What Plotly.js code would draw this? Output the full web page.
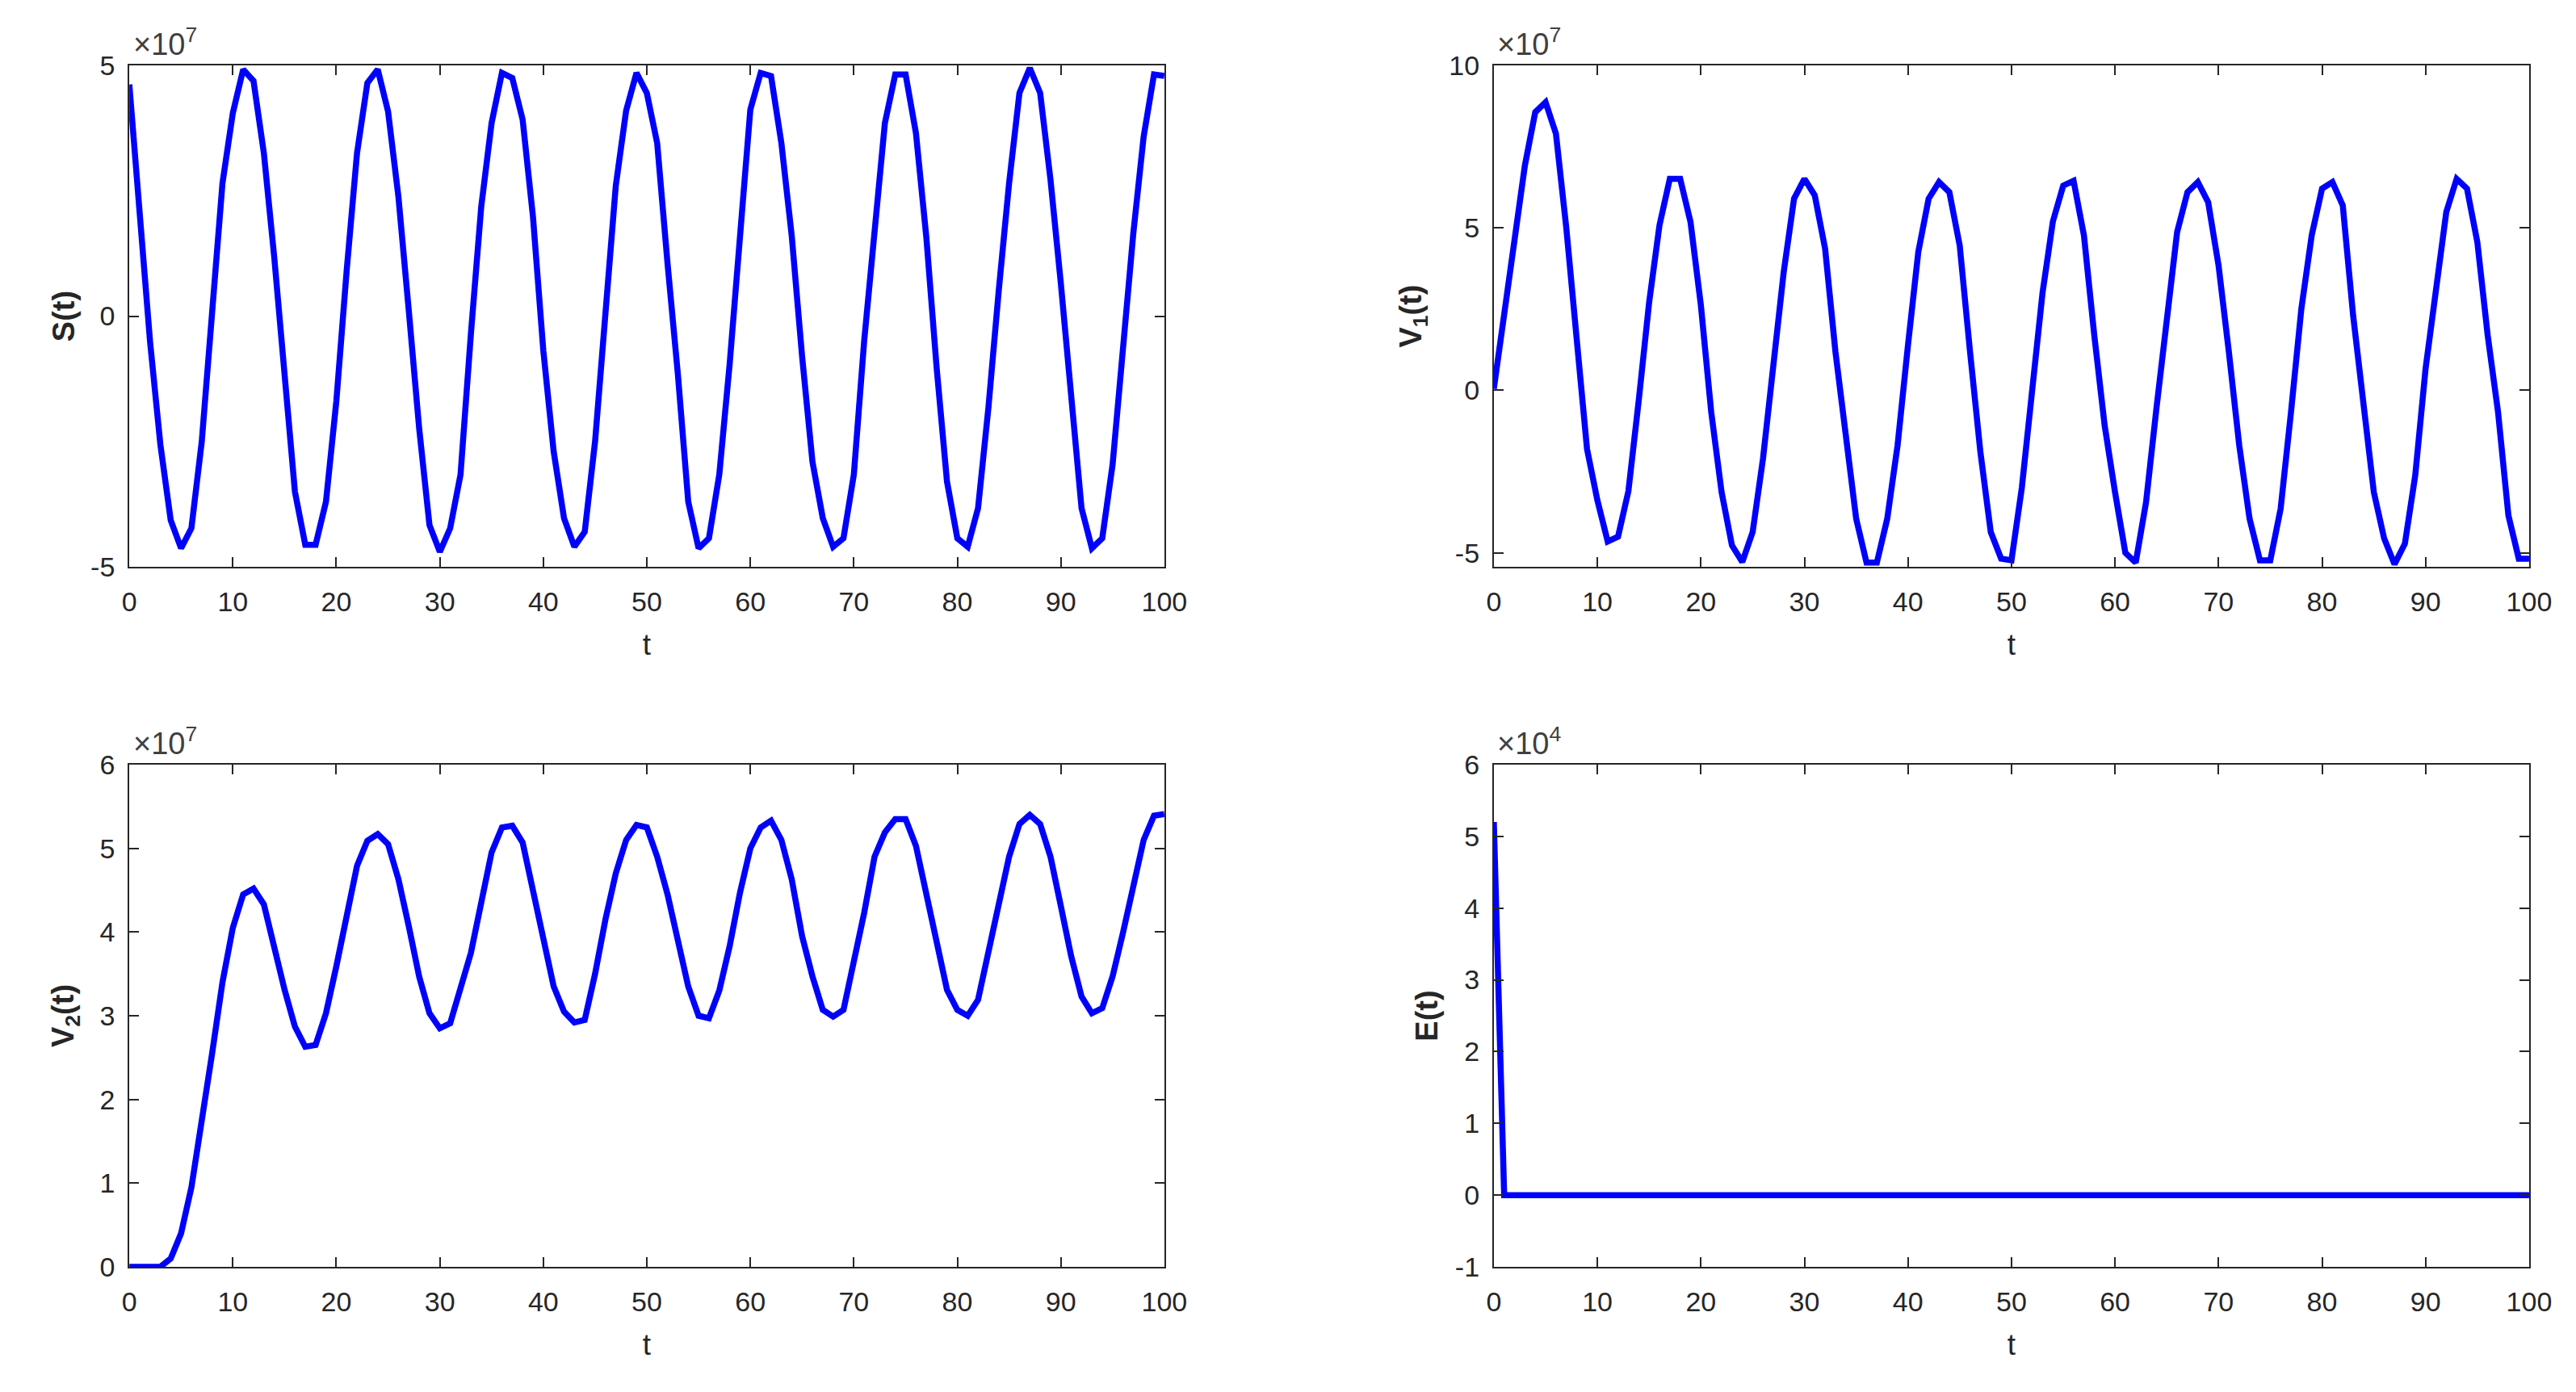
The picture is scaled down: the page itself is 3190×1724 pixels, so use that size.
<!DOCTYPE html>
<html>
<head>
<meta charset="utf-8">
<script src="https://cdn.plot.ly/plotly-3.0.1.min.js"></script>
<style>
  html, body { margin: 0; padding: 0; background: #ffffff; }
  #plot { width: 3190px; height: 1724px; }
</style>
</head>
<body>
<div id="plot"></div>
<script>
// sample times, one every unit from 0 to 100
var t = Array.from({length: 101}, function (_, i) { return i; });

// S(t), in units of 1e7
var S = [4.62, 1.97, -0.5, -2.56, -4.07, -4.63, -4.23, -2.5, 0.1, 2.65,
  4.05, 4.92, 4.69, 3.25, 1.18, -1.16, -3.5, -4.56, -4.56, -3.7,
  -1.7, 0.91, 3.25, 4.65, 4.92, 4.08, 2.38, 0.11, -2.23, -4.17,
  -4.7, -4.23, -3.16, -0.36, 2.18, 3.85, 4.85, 4.75, 3.92, 1.98,
  -0.69, -2.7, -4.03, -4.6, -4.3, -2.5, 0.1, 2.6, 4.1, 4.85,
  4.45, 3.45, 1.05, -1.16, -3.7, -4.63, -4.43, -3.16, -0.96, 1.58,
  4.12, 4.85, 4.79, 3.45, 1.6, -0.8, -2.9, -4.03, -4.6, -4.43,
  -3.16, -0.49, 1.58, 3.85, 4.82, 4.82, 3.65, 1.58, -1.03, -3.3,
  -4.43, -4.6, -3.83, -1.83, 0.51, 2.65, 4.45, 4.95, 4.45, 2.72,
  0.65, -1.56, -3.83, -4.63, -4.43, -2.96, -0.69, 1.65, 3.58, 4.82,
  4.79];

// V1(t), in units of 1e7
var V1 = [0.05, 2.41, 4.77, 6.92, 8.56, 8.87, 7.9, 5.0, 1.6, -1.8,
  -3.38, -4.65, -4.5, -3.1, -0.3, 2.7, 5.08, 6.51, 6.51, 5.18,
  2.62, -0.67, -3.13, -4.77, -5.28, -4.36, -2.1, 0.77, 3.64, 5.9,
  6.51, 6.0, 4.36, 1.18, -1.28, -3.95, -5.3, -5.3, -3.95, -1.69,
  1.38, 4.26, 5.9, 6.41, 6.1, 4.46, 1.18, -1.9, -4.36, -5.18,
  -5.23, -3.0, 0.0, 3.0, 5.2, 6.3, 6.45, 4.77, 1.69, -1.08,
  -3.13, -5.0, -5.3, -3.44, -0.56, 2.2, 4.87, 6.1, 6.41, 5.79,
  3.85, 1.18, -1.69, -3.95, -5.23, -5.23, -3.64, -0.67, 2.51, 4.77,
  6.21, 6.41, 5.69, 2.31, -0.56, -3.13, -4.56, -5.35, -4.72, -2.62,
  0.67, 3.03, 5.49, 6.51, 6.21, 4.56, 1.69, -0.67, -3.85, -5.18,
  -5.18];

// V2(t), in units of 1e7
var V2 = [0, 0, 0, 0, 0.1, 0.4, 0.95, 1.7, 2.55, 3.4,
  4.05, 4.45, 4.52, 4.33, 3.79, 3.31, 2.87, 2.63, 2.65, 3.03,
  3.59, 4.23, 4.79, 5.09, 5.17, 5.05, 4.63, 4.07, 3.47, 3.03,
  2.85, 2.91, 3.31, 3.75, 4.35, 4.95, 5.25, 5.27, 5.07, 4.5,
  3.99, 3.35, 3.05, 2.92, 2.95, 3.5, 4.15, 4.7, 5.1, 5.28,
  5.25, 4.9, 4.45, 3.9, 3.35, 3.0, 2.97, 3.3, 3.83, 4.47,
  5.0, 5.25, 5.33, 5.1, 4.63, 3.95, 3.47, 3.07, 2.99, 3.07,
  3.63, 4.23, 4.9, 5.19, 5.35, 5.35, 5.03, 4.47, 3.83, 3.31,
  3.07, 3.0, 3.19, 3.75, 4.35, 4.9, 5.29, 5.4, 5.29, 4.9,
  4.31, 3.71, 3.23, 3.03, 3.09, 3.47, 3.99, 4.55, 5.1, 5.39,
  5.41];

// E(t), in units of 1e4
var E = [5.2, 0, 0, 0, 0, 0, 0, 0, 0, 0,
  0, 0, 0, 0, 0, 0, 0, 0, 0, 0,
  0, 0, 0, 0, 0, 0, 0, 0, 0, 0,
  0, 0, 0, 0, 0, 0, 0, 0, 0, 0,
  0, 0, 0, 0, 0, 0, 0, 0, 0, 0,
  0, 0, 0, 0, 0, 0, 0, 0, 0, 0,
  0, 0, 0, 0, 0, 0, 0, 0, 0, 0,
  0, 0, 0, 0, 0, 0, 0, 0, 0, 0,
  0, 0, 0, 0, 0, 0, 0, 0, 0, 0,
  0, 0, 0, 0, 0, 0, 0, 0, 0, 0,
  0];

// tick positions
var xTicks = [0, 10, 20, 30, 40, 50, 60, 70, 80, 90, 100];
var sTicks = [-5, 0, 5];
var v1Ticks = [-5, 0, 5, 10];
var v2Ticks = [0, 1, 2, 3, 4, 5, 6];
var eTicks = [-1, 0, 1, 2, 3, 4, 5, 6];

var FONT = 'Liberation Sans, Arial, Helvetica, sans-serif';
var INK = '#262626';
var BLUE = '#0000ff';

// matlab writes a plain hyphen for negatives
function lbl(v) { return String(v); }

function xAxis(domain, anchor) {
  return {
    domain: domain, anchor: anchor, range: [0, 100],
    tickvals: xTicks, ticktext: xTicks.map(lbl),
    ticks: 'inside', ticklen: 12, tickwidth: 2, tickcolor: INK,
    showline: true, linewidth: 2, linecolor: INK, mirror: 'ticks',
    showgrid: false, zeroline: false,
    tickfont: {family: FONT, size: 34, color: INK},
    ticklabelstandoff: 12,
    title: {text: 't', font: {family: FONT, size: 37, color: INK}, standoff: 22}
  };
}

function yAxis(domain, anchor, range, ticks, label, standoff) {
  return {
    domain: domain, anchor: anchor, range: range,
    tickvals: ticks, ticktext: ticks.map(lbl),
    ticks: 'inside', ticklen: 12, tickwidth: 2, tickcolor: INK,
    showline: true, linewidth: 2, linecolor: INK, mirror: 'ticks',
    showgrid: false, zeroline: false,
    tickfont: {family: FONT, size: 34, color: INK},
    ticklabelstandoff: 9,
    title: {text: label, font: {family: FONT, size: 38, color: INK}, standoff: standoff}
  };
}

var colL = [0.0502, 0.4520];
var colR = [0.5799, 0.9818];
var rowT = [0.5928, 0.9530];
var rowB = [0.0899, 0.4507];

function line(y, xa, ya) {
  return {x: t, y: y, xaxis: xa, yaxis: ya, type: 'scatter', mode: 'lines',
    line: {color: BLUE, width: 7.5}, hoverinfo: 'none', showlegend: false};
}

var data = [
  line(S, 'x', 'y'),
  line(V1, 'x2', 'y2'),
  line(V2, 'x3', 'y3'),
  line(E, 'x4', 'y4')
];

function expo(xd, yd, p) {
  return {xref: 'paper', yref: 'paper', x: xd + 0.0008, y: yd + 0.002,
    xanchor: 'left', yanchor: 'bottom', showarrow: false,
    text: '\u00d710<sup>' + p + '</sup>',
    font: {family: FONT, size: 38, color: '#404040'}};
}

var layout = {
  width: 3190, height: 1724,
  margin: {l: 0, r: 0, t: 0, b: 0},
  paper_bgcolor: '#ffffff', plot_bgcolor: '#ffffff',
  showlegend: false,
  xaxis: xAxis(colL, 'y'),
  yaxis: yAxis(rowT, 'x', [-5, 5], sTicks, '<b>S(t)</b>', 8),
  xaxis2: xAxis(colR, 'y2'),
  yaxis2: yAxis(rowT, 'x2', [-5.43, 10], v1Ticks, '<b>V<sub>1</sub>(t)</b>', 22),
  xaxis3: xAxis(colL, 'y3'),
  yaxis3: yAxis(rowB, 'x3', [0, 6], v2Ticks, '<b>V<sub>2</sub>(t)</b>', 20),
  xaxis4: xAxis(colR, 'y4'),
  yaxis4: yAxis(rowB, 'x4', [-1, 6], eTicks, '<b>E(t)</b>', 10),
  annotations: [
    expo(colL[0], rowT[1], 7),
    expo(colR[0], rowT[1], 7),
    expo(colL[0], rowB[1], 7),
    expo(colR[0], rowB[1], 4)
  ]
};

Plotly.newPlot('plot', data, layout, {displayModeBar: false, staticPlot: true});
</script>
</body>
</html>
